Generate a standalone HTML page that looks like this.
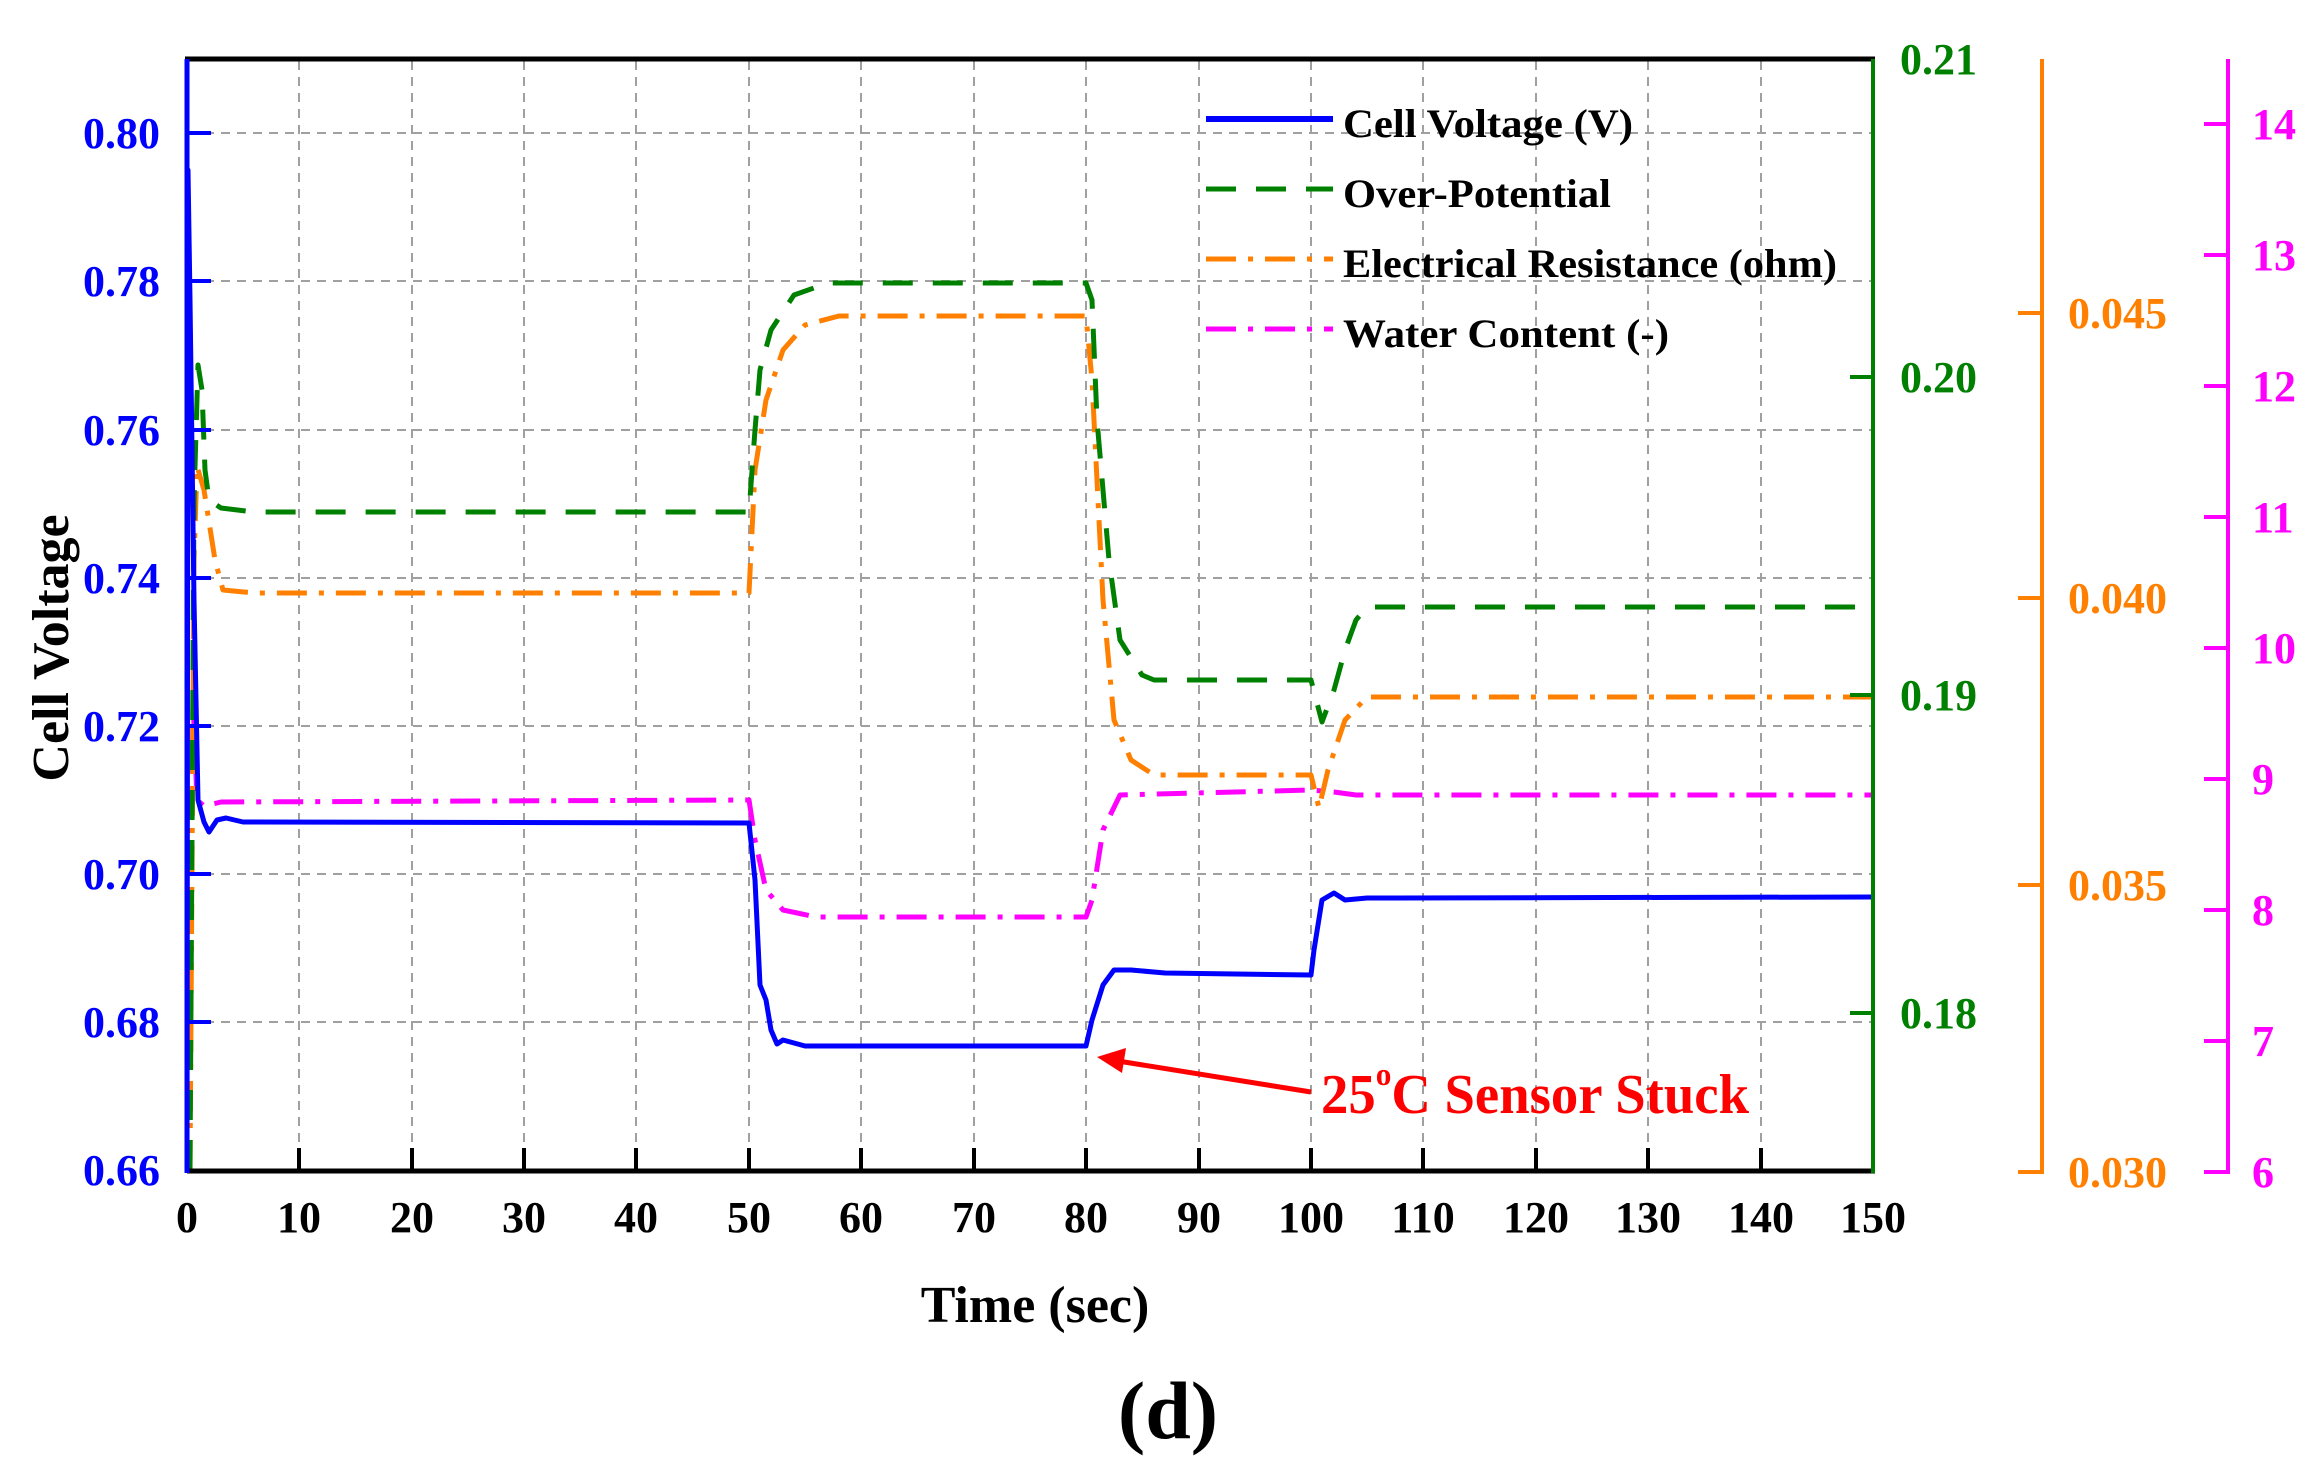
<!DOCTYPE html>
<html><head><meta charset="utf-8"><style>
html,body{margin:0;padding:0;background:#fff;}
svg{display:block;}
text{font-family:"Liberation Serif",serif;font-weight:bold;}
</style></head><body>
<svg width="2323" height="1469" viewBox="0 0 2323 1469" xmlns="http://www.w3.org/2000/svg">
<g stroke="#a0a0a0" stroke-width="2" stroke-dasharray="9,7" fill="none">
<path d="M299 61V1168M412 61V1168M524 61V1168M636 61V1168M749 61V1168M861 61V1168M974 61V1168M1086 61V1168M1199 61V1168M1311 61V1168M1423 61V1168M1536 61V1168M1648 61V1168M1761 61V1168"/>
<path d="M189 133H1871M189 281H1871M189 430H1871M189 578H1871M189 726H1871M189 874H1871M189 1022H1871"/>
</g>
<g fill="none" stroke-width="5" stroke-linejoin="round">
<polyline stroke="#ff00ff" stroke-dasharray="30,12,5,12" points="189,1170 193,700 197,800 204,806 221,802 749,800 755,840 766,890 783,910 816,917 1086,917 1092,900 1103,830 1120,795 1311,790 1334,792 1356,795 1873,795"/>
<polyline stroke="#ff8000" stroke-dasharray="30,12,5,12" points="190,1170 194,560 197,466 204,490 215,560 223,590 254,593 749,593 755,470 766,400 783,350 805,325 839,316 1086,316 1092,380 1103,600 1114,720 1131,760 1154,775 1311,775 1319,808 1328,770 1345,720 1367,697 1873,697"/>
<polyline stroke="#008000" stroke-dasharray="30,20" points="190,1170 194,500 198,365 202,390 205,470 209,500 221,508 254,512 749,512 755,430 760,370 771,330 794,295 828,283 1086,283 1092,300 1097,420 1109,560 1120,640 1142,675 1154,680 1311,680 1322,722 1334,690 1345,650 1356,620 1367,607 1873,607"/>
<polyline stroke="#0000ff" points="187,1170 188,170 190,300 194,600 198,800 204,822 209,832 217,820 226,818 243,822 749,823 755,880 760,985 766,1000 771,1030 777,1044 783,1040 805,1046 1086,1046 1092,1020 1103,985 1114,970 1131,970 1165,973 1311,975 1314,950 1322,900 1334,893 1345,900 1367,898 1873,897"/>
</g>
<line x1="185" y1="59" x2="1875" y2="59" stroke="#000" stroke-width="5"/>
<line x1="187" y1="1171" x2="1875" y2="1171" stroke="#000" stroke-width="5"/>
<line x1="187" y1="59" x2="187" y2="1173" stroke="#0000ff" stroke-width="5"/>
<line x1="1873" y1="59" x2="1873" y2="1173" stroke="#008000" stroke-width="4"/>
<g stroke="#000" stroke-width="4">
<path d="M299 1171V1148M412 1171V1148M524 1171V1148M636 1171V1148M749 1171V1148M861 1171V1148M974 1171V1148M1086 1171V1148M1199 1171V1148M1311 1171V1148M1423 1171V1148M1536 1171V1148M1648 1171V1148M1761 1171V1148"/>
</g>
<g stroke="#0000ff" stroke-width="4"><path d="M187 133H211M187 281H211M187 430H211M187 578H211M187 726H211M187 874H211M187 1022H211"/></g>
<g stroke="#008000" stroke-width="4"><path d="M1873 377H1850M1873 695H1850M1873 1013H1850"/></g>
<g stroke="#ff8000" stroke-width="4" fill="none"><path d="M2042 59V1172H2018M2042 313H2018M2042 598H2018M2042 885H2018"/></g>
<g stroke="#ff00ff" stroke-width="4" fill="none"><path d="M2228 59V1172H2204M2228 124H2204M2228 255H2204M2228 386H2204M2228 517H2204M2228 648H2204M2228 779H2204M2228 910H2204M2228 1041H2204"/></g>
<g fill="#0000ff" font-size="44" text-anchor="end">
<text x="160" y="148">0.80</text><text x="160" y="296">0.78</text><text x="160" y="445">0.76</text><text x="160" y="593">0.74</text><text x="160" y="741">0.72</text><text x="160" y="889">0.70</text><text x="160" y="1037">0.68</text><text x="160" y="1185">0.66</text>
</g>
<g fill="#008000" font-size="44"><text x="1900" y="74">0.21</text><text x="1900" y="392">0.20</text><text x="1900" y="710">0.19</text><text x="1900" y="1028">0.18</text></g>
<g fill="#ff8000" font-size="44"><text x="2068" y="328">0.045</text><text x="2068" y="613">0.040</text><text x="2068" y="900">0.035</text><text x="2068" y="1187">0.030</text></g>
<g fill="#ff00ff" font-size="44"><text x="2252" y="139">14</text><text x="2252" y="270">13</text><text x="2252" y="401">12</text><text x="2252" y="532">11</text><text x="2252" y="663">10</text><text x="2252" y="794">9</text><text x="2252" y="925">8</text><text x="2252" y="1056">7</text><text x="2252" y="1187">6</text></g>
<g fill="#000" font-size="44" text-anchor="middle">
<text x="187" y="1232">0</text><text x="299" y="1232">10</text><text x="412" y="1232">20</text><text x="524" y="1232">30</text><text x="636" y="1232">40</text><text x="749" y="1232">50</text><text x="861" y="1232">60</text><text x="974" y="1232">70</text><text x="1086" y="1232">80</text><text x="1199" y="1232">90</text><text x="1311" y="1232">100</text><text x="1423" y="1232">110</text><text x="1536" y="1232">120</text><text x="1648" y="1232">130</text><text x="1761" y="1232">140</text><text x="1873" y="1232">150</text>
</g>
<text x="1035" y="1322" font-size="52" text-anchor="middle" fill="#000">Time (sec)</text>
<text transform="translate(68,648) rotate(-90)" font-size="52" text-anchor="middle" fill="#000">Cell Voltage</text>
<text x="1168" y="1438" font-size="82" text-anchor="middle" fill="#000">(d)</text>
<g stroke-width="5" fill="none">
<line x1="1206" y1="119" x2="1333" y2="119" stroke="#0000ff" stroke-width="6"/>
<line x1="1206" y1="189" x2="1333" y2="189" stroke="#008000" stroke-dasharray="30,20"/>
<line x1="1206" y1="259" x2="1333" y2="259" stroke="#ff8000" stroke-dasharray="30,12,5,12"/>
<line x1="1206" y1="329" x2="1333" y2="329" stroke="#ff00ff" stroke-dasharray="30,12,5,12"/>
</g>
<g fill="#000" font-size="40">
<text x="1343" y="137" textLength="290" lengthAdjust="spacingAndGlyphs">Cell Voltage (V)</text>
<text x="1343" y="207" textLength="268" lengthAdjust="spacingAndGlyphs">Over-Potential</text>
<text x="1343" y="277" textLength="494" lengthAdjust="spacingAndGlyphs">Electrical Resistance (ohm)</text>
<text x="1343" y="347" textLength="326" lengthAdjust="spacingAndGlyphs">Water Content (-)</text>
</g>
<line x1="1311" y1="1092" x2="1118" y2="1061" stroke="#ff0000" stroke-width="5"/>
<polygon points="1097,1057 1126,1048 1122,1073" fill="#ff0000"/>
<text x="1321" y="1113" font-size="56" fill="#ff0000" textLength="428" lengthAdjust="spacingAndGlyphs">25<tspan font-size="32" dy="-28">o</tspan><tspan dy="28">C Sensor Stuck</tspan></text>
</svg>
</body></html>
